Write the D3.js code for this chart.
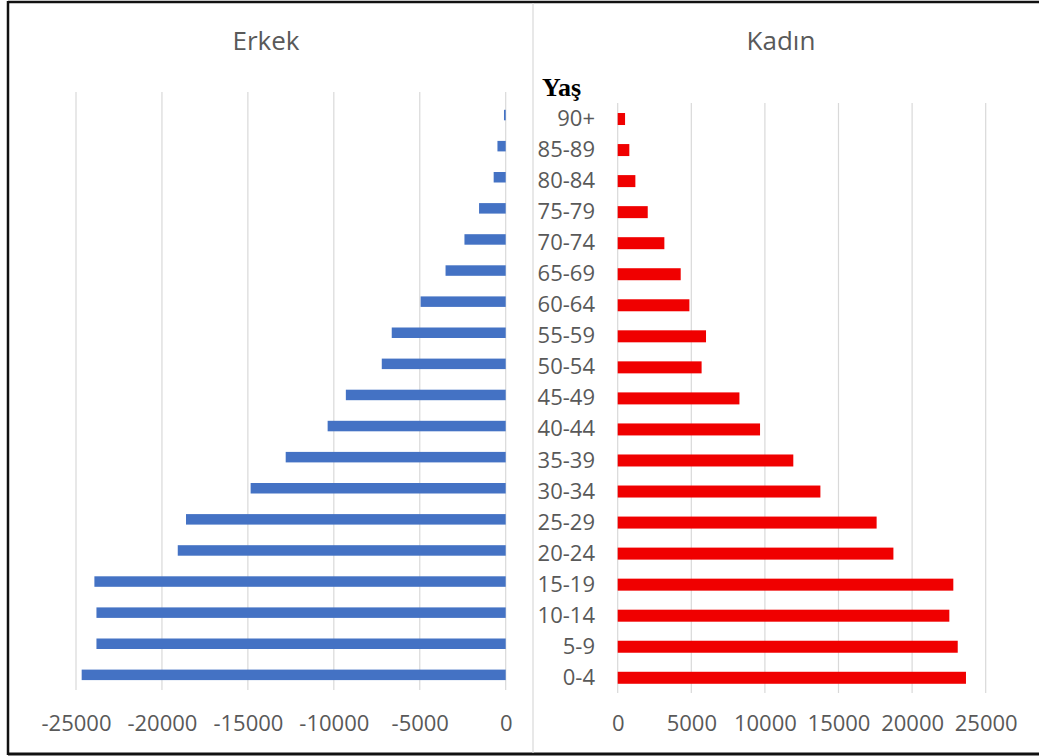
<!DOCTYPE html>
<html>
<head>
<meta charset="utf-8">
<script src="https://cdn.jsdelivr.net/npm/d3@7"></script>
<style>
  body { margin: 0; background: #fff; }
  svg text { font-family: "Open Sans", sans-serif; }
</style>
</head>
<body>
<div id="chart"></div>
<script>
// age groups, bottom to top
var ages = ['0-4', '5-9', '10-14', '15-19', '20-24', '25-29', '30-34', '35-39', '40-44',
            '45-49', '50-54', '55-59', '60-64', '65-69', '70-74', '75-79', '80-84', '85-89', '90+'];
// men are stored negative, like the source sheet
var erkek = [-24670, -23810, -23810, -23930, -19080, -18600, -14840, -12800, -10360,
             -9300, -7210, -6630, -4950, -3500, -2400, -1550, -700, -480, -100];
var kadin = [23660, 23100, 22530, 22800, 18730, 17590, 13770, 11930, 9670,
             8270, 5700, 6000, 4870, 4280, 3170, 2040, 1200, 790, 500];
var erkekTicks = [-25000, -20000, -15000, -10000, -5000, 0];
var kadinTicks = [0, 5000, 10000, 15000, 20000, 25000];

(function() {
    var width = 1039;
    var height = 756;
    var grey = '#595959';
    var gridColor = '#d9d9d9';
    // plain hyphen for negatives, as in the spreadsheet
    var fmt = d => String(d);

    var svg = d3.select('#chart')
        .append('svg')
        .attr('width', width)
        .attr('height', height);

    // frame and middle divider
    svg.append('line').attr('x1', 8).attr('x2', width).attr('y1', 2).attr('y2', 2)
        .attr('stroke', '#111').attr('stroke-width', 2.5);
    svg.append('line').attr('x1', 8).attr('x2', 8).attr('y1', 1).attr('y2', 755)
        .attr('stroke', '#111').attr('stroke-width', 2.5);
    svg.append('line').attr('x1', 8).attr('x2', width).attr('y1', 754).attr('y2', 754)
        .attr('stroke', '#111').attr('stroke-width', 3);
    svg.append('line').attr('x1', 533).attr('x2', 533).attr('y1', 3).attr('y2', 753)
        .attr('stroke', gridColor).attr('stroke-width', 1.2);

    // ---- left: Erkek ----
    var xL = d3.scaleLinear().domain([-25000, 0]).range([76, 505.7]);
    var yL = d3.scaleBand().domain(ages.slice().reverse()).range([99.5, 690.4]);

    svg.append('g')
        .selectAll('line')
        .data(erkekTicks)
        .join('line')
            .attr('x1', d => xL(d)).attr('x2', d => xL(d))
            .attr('y1', 92).attr('y2', 690)
            .attr('stroke', gridColor).attr('stroke-width', 1.2);

    var barL = 10.5;
    svg.append('g')
        .selectAll('rect')
        .data(ages)
        .join('rect')
            .attr('fill', '#4472c4')
            .attr('x', (d, i) => xL(erkek[i]))
            .attr('y', d => yL(d) + yL.bandwidth() / 2 - barL / 2)
            .attr('width', (d, i) => xL(0) - xL(erkek[i]))
            .attr('height', barL);

    // bottom axis, labels only
    var axL = svg.append('g')
        .attr('transform', 'translate(0, 700)')
        .call(d3.axisBottom(xL).tickValues(erkekTicks).tickSize(0).tickPadding(0).tickFormat(fmt));
    axL.select('.domain').remove();
    axL.selectAll('text')
        .attr('dy', null).attr('y', 31)
        .attr('fill', grey)
        .attr('font-size', '22px')
        .attr('font-family', '"Open Sans", sans-serif');

    svg.append('text')
        .attr('x', 266).attr('y', 50)
        .attr('text-anchor', 'middle')
        .attr('fill', grey)
        .attr('font-size', '26px')
        .text('Erkek');

    // ---- right: Kadın ----
    var xR = d3.scaleLinear().domain([0, 25000]).range([617.7, 985.7]);
    var yR = d3.scaleBand().domain(ages.slice().reverse()).range([103.5, 693.3]);

    svg.append('g')
        .selectAll('line')
        .data(kadinTicks)
        .join('line')
            .attr('x1', d => xR(d)).attr('x2', d => xR(d))
            .attr('y1', 103).attr('y2', 693)
            .attr('stroke', gridColor).attr('stroke-width', 1.2);

    var barR = 12;
    svg.append('g')
        .selectAll('rect')
        .data(ages)
        .join('rect')
            .attr('fill', '#f00000')
            .attr('x', xR(0))
            .attr('y', d => yR(d) + yR.bandwidth() / 2 - barR / 2)
            .attr('width', (d, i) => xR(kadin[i]) - xR(0))
            .attr('height', barR);

    // age labels sit between the two charts
    var axY = svg.append('g')
        .attr('transform', 'translate(597, 0)')
        .call(d3.axisLeft(yR).tickSize(0).tickPadding(2));
    axY.select('.domain').remove();
    axY.selectAll('text')
        .attr('fill', grey)
        .attr('font-size', '22px')
        .attr('font-family', '"Open Sans", sans-serif');

    var axR = svg.append('g')
        .attr('transform', 'translate(0, 700)')
        .call(d3.axisBottom(xR).tickValues(kadinTicks).tickSize(0).tickPadding(0).tickFormat(fmt));
    axR.select('.domain').remove();
    axR.selectAll('text')
        .attr('dy', null).attr('y', 31)
        .attr('fill', grey)
        .attr('font-size', '22px')
        .attr('font-family', '"Open Sans", sans-serif');

    svg.append('text')
        .attr('x', 781).attr('y', 50)
        .attr('text-anchor', 'middle')
        .attr('fill', grey)
        .attr('font-size', '26px')
        .text('Kadın');

    svg.append('text')
        .attr('x', 542).attr('y', 96)
        .attr('fill', '#000')
        .attr('font-size', '26px')
        .attr('font-weight', 'bold')
        .style('font-family', '"Liberation Serif", "DejaVu Serif", serif')
        .text('Yaş');
})();
</script>
</body>
</html>
